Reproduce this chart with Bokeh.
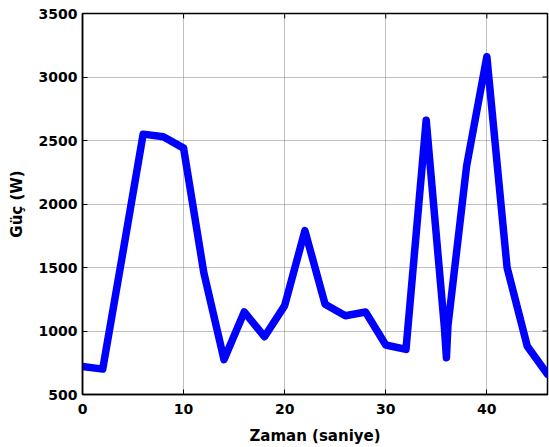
from bokeh.plotting import figure
from bokeh.models import Range1d, FixedTicker, ColumnDataSource
from bokeh.embed import file_html
from bokeh.resources import INLINE
import math

# Data
time_s = [0, 2, 4, 6, 8, 10, 12, 14, 16, 18, 20, 22, 24, 26, 28, 30, 32, 34,
          35.8, 36, 36.15, 38, 40, 42, 44, 46]
power_w = [720, 700, 1620, 2550, 2530, 2440, 1460, 775, 1150, 955, 1200, 1790,
           1210, 1120, 1150, 890, 855, 2660, 1030, 790, 1040, 2300, 3160, 1500,
           880, 660]

x_ticks = [0, 10, 20, 30, 40]
y_ticks = [500, 1000, 1500, 2000, 2500, 3000, 3500]
x_label = "Zaman (saniye)"
y_label = "Güç (W)"

X_MIN, X_MAX = 0, 46
Y_MIN, Y_MAX = 500, 3500
FONT = "DejaVu Sans"

p = figure(width=549, height=447, output_backend="svg", toolbar_location=None,
           x_range=Range1d(X_MIN, X_MAX), y_range=Range1d(Y_MIN, Y_MAX),
           min_border_left=82, min_border_right=2, min_border_top=13,
           min_border_bottom=52)

src = ColumnDataSource(data=dict(t=time_s, p=power_w))
p.line("t", "p", source=src, line_color="#0000FF", line_width=7.5,
       line_join="round", line_cap="round")

# inward box ticks on the top and right edges (clipped half of a 10px dash)
p.scatter(x=x_ticks, y=[Y_MAX] * len(x_ticks), marker="dash", size=10,
          angle=math.pi / 2, line_color="black", line_width=1)
p.scatter(x=[X_MAX] * len(y_ticks), y=y_ticks, marker="dash", size=10,
          line_color="black", line_width=1)

p.background_fill_color = "white"
p.border_fill_color = "white"
p.outline_line_color = "black"
p.outline_line_width = 1.5

for ax in (p.xaxis[0], p.yaxis[0]):
    ax.major_label_text_font = FONT
    ax.major_label_text_font_style = "bold"
    ax.major_label_text_font_size = "14px"
    ax.major_label_text_color = "black"
    ax.axis_label_text_font = FONT
    ax.axis_label_text_font_style = "bold"
    ax.axis_label_text_font_size = "15px"
    ax.axis_label_text_color = "black"
    ax.major_tick_in = 5
    ax.major_tick_out = 0
    ax.minor_tick_in = 0
    ax.minor_tick_out = 0
    ax.axis_line_color = "black"
    ax.axis_line_width = 1.5
    ax.major_tick_line_color = "black"

p.xaxis[0].ticker = FixedTicker(ticks=x_ticks)
p.yaxis[0].ticker = FixedTicker(ticks=y_ticks)
p.xaxis[0].axis_label = x_label
p.yaxis[0].axis_label = y_label
p.xaxis[0].major_label_standoff = 9
p.xaxis[0].axis_label_standoff = 10
p.yaxis[0].major_label_standoff = 5
p.yaxis[0].axis_label_standoff = 10

p.xgrid.ticker = FixedTicker(ticks=x_ticks)
p.ygrid.ticker = FixedTicker(ticks=y_ticks)
for g in (p.xgrid[0], p.ygrid[0]):
    g.grid_line_color = "#808080"
    g.grid_line_dash = "1 1"
    g.grid_line_width = 1

open("out.html", "w").write(file_html(p, INLINE))
